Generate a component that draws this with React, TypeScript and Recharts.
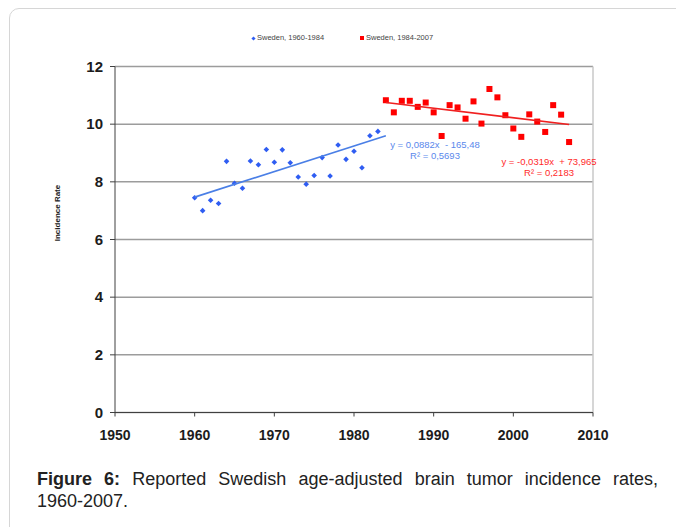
import React from 'react';
import { ScatterChart, Scatter, XAxis, YAxis, CartesianGrid, ReferenceLine } from 'recharts';

const blueYears = [1960,1961,1962,1963,1964,1965,1966,1967,1968,1969,1970,1971,1972,1973,1974,1975,1976,1977,1978,1979,1980,1981,1982,1983];
const blueValues = [7.45,7.0,7.36,7.25,8.71,7.95,7.78,8.72,8.59,9.12,8.68,9.11,8.66,8.17,7.92,8.22,8.84,8.2,9.28,8.78,9.06,8.49,9.6,9.75];
const redYears = [1984,1985,1986,1987,1988,1989,1990,1991,1992,1993,1994,1995,1996,1997,1998,1999,2000,2001,2002,2003,2004,2005,2006,2007];
const redValues = [10.83,10.41,10.81,10.81,10.6,10.75,10.41,9.59,10.66,10.58,10.19,10.79,10.02,11.22,10.93,10.31,9.85,9.56,10.34,10.09,9.73,10.66,10.33,9.38];
const blueTrendYears = [1960, 1984];
const blueTrendValues = [7.47, 9.6];
const redTrendYears = [1984, 2007];
const redTrendValues = [10.75, 9.99];
const xTicks = [1950,1960,1970,1980,1990,2000,2010];
const yTicks = [0,2,4,6,8,10,12];
const legendLabels = ['Sweden, 1960-1984', 'Sweden, 1984-2007'];
const blueEq = ['y = 0,0882x  - 165,48', 'R² = 0,5693'];
const redEq = ['y = -0,0319x  + 73,965', 'R² = 0,2183'];

const zip = (xs: number[], ys: number[]) => xs.map((x, i) => ({ x, y: ys[i] }));
const blueData = zip(blueYears, blueValues);
const redData = zip(redYears, redValues);
const blueTrend = zip(blueTrendYears, blueTrendValues);
const redTrend = zip(redTrendYears, redTrendValues);

const BLUE = '#2f5df2';
const RED = '#ff0000';
const FONT = '"Liberation Sans", Arial, sans-serif';

const Diamond = (p: any) => {
  const { cx, cy } = p;
  const r = 2.8;
  return <polygon points={`${cx},${cy - r} ${cx + r},${cy} ${cx},${cy + r} ${cx - r},${cy}`} fill={BLUE} />;
};
const Square = (p: any) => {
  const { cx, cy } = p;
  return <rect x={cx - 3} y={cy - 3} width={6} height={6} fill={RED} />;
};
const NoShape = () => <g />;

export default function App() {
  return (
    <div style={{ position: 'absolute', left: 0, top: 0, width: 676, height: 527, overflow: 'hidden', background: '#fff', fontFamily: FONT }}>
      <div style={{ position: 'absolute', left: 9, top: 8, width: 720, height: 560, border: '1px solid #d6d6d6', borderRadius: 10 }} />
      <div style={{ position: 'absolute', left: 0, top: 0 }}>
        <ScatterChart width={676} height={460} margin={{ top: 66.5, right: 83, bottom: 17.5, left: 75 }}>
          <CartesianGrid vertical={false} stroke="#9c9c9c" strokeWidth={1.5} />
          <XAxis
            type="number"
            dataKey="x"
            domain={[1950, 2010]}
            ticks={xTicks}
            interval={0}
            height={30}
            stroke="#404040"
            tickSize={4}
            tickMargin={14}
            tick={{ fill: '#1c1c1c', fontSize: 14, fontWeight: 'bold', fontFamily: FONT }}
          />
          <YAxis
            type="number"
            dataKey="y"
            domain={[0, 12]}
            ticks={yTicks}
            interval={0}
            width={40}
            stroke="#404040"
            tickSize={5}
            tickMargin={7}
            tick={{ fill: '#1c1c1c', fontSize: 15, fontWeight: 'bold', fontFamily: FONT }}
          />
          <ReferenceLine x={2010} stroke="#c8c8c8" strokeWidth={1.5} />
          <Scatter data={blueData} shape={Diamond} isAnimationActive={false} />
          <Scatter data={redData} shape={Square} isAnimationActive={false} />
          <Scatter data={blueTrend} line={{ stroke: '#4a7fe6', strokeWidth: 1.6 }} shape={NoShape} isAnimationActive={false} />
          <Scatter data={redTrend} line={{ stroke: '#f02020', strokeWidth: 1.6 }} shape={NoShape} isAnimationActive={false} />
        </ScatterChart>
      </div>
      {/* legend */}
      <div style={{ position: 'absolute', left: 252, top: 33, fontSize: 7.5, color: '#444', whiteSpace: 'nowrap', lineHeight: '10px' }}>
        <span style={{ display: 'inline-block', width: 3, height: 3, background: BLUE, transform: 'rotate(45deg)', marginRight: 2, verticalAlign: 'middle' }} />
        {legendLabels[0]}
      </div>
      <div style={{ position: 'absolute', left: 360, top: 33, fontSize: 7.5, color: '#444', whiteSpace: 'nowrap', lineHeight: '10px' }}>
        <span style={{ display: 'inline-block', width: 4, height: 4, background: RED, marginRight: 2, verticalAlign: 'middle' }} />
        {legendLabels[1]}
      </div>
      {/* y label */}
      <div style={{ position: 'absolute', left: 57, top: 213, transform: 'translate(-50%, -50%) rotate(-90deg)', fontSize: 8, fontWeight: 'bold', color: '#222', whiteSpace: 'nowrap' }}>
        Incidence Rate
      </div>
      {/* equations */}
      <div style={{ position: 'absolute', left: 435, top: 139, transform: 'translateX(-50%)', textAlign: 'center', fontSize: 9.5, color: '#5a88ec', lineHeight: '11px', whiteSpace: 'pre' }}>
        {blueEq[0]}<br />{blueEq[1]}
      </div>
      <div style={{ position: 'absolute', left: 549, top: 156, transform: 'translateX(-50%)', textAlign: 'center', fontSize: 9.5, color: '#ff2a2a', lineHeight: '11px', whiteSpace: 'pre' }}>
        {redEq[0]}<br />{redEq[1]}
      </div>
      {/* caption */}
      <div style={{ position: 'absolute', left: 37, top: 468, width: 621, fontSize: 18, lineHeight: '22px', color: '#222', textAlign: 'justify' }}>
        <b>Figure 6:</b> Reported Swedish age-adjusted brain tumor incidence rates, <span style={{ whiteSpace: 'nowrap' }}>1960-2007.</span>
      </div>
    </div>
  );
}
